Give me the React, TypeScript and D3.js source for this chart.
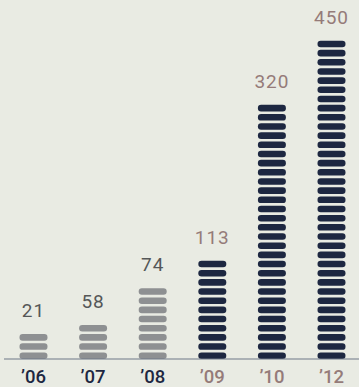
import React from "react";
import * as d3 from "d3";

const years = ["’06", "’07", "’08", "’09", "’10", "’12"];
const values = [21, 58, 74, 113, 320, 450];
const segments = [3, 4, 8, 11, 28, 35];
const highlighted = [false, false, false, true, true, true];

const W = 359;
const H = 387;
const baseline = 359;
const pitch = 9.17;
const gap = 2.6;
const barW = 28;

export default function App() {
  const x = d3.scalePoint<string>().domain(years).range([33.5, 331.5]);
  const maxSeg = d3.max(segments) as number;
  const y = d3
    .scaleLinear()
    .domain([0, maxSeg])
    .range([baseline, baseline - maxSeg * pitch]);

  return (
    <svg
      width={W}
      height={H}
      style={{ position: "absolute", left: 0, top: 0, background: "#e9ebe3" }}
    >
      <rect x={0} y={0} width={W} height={H} fill="#e9ebe3" />
      {years.map((yr, i) => {
        const cx = x(yr) as number;
        const n = segments[i];
        const fill = highlighted[i] ? "#1d2741" : "#8e9092";
        const segs = d3.range(n).map((k) => (
          <rect
            key={k}
            x={cx - barW / 2}
            y={y(k + 1) + gap}
            width={barW}
            height={y(k) - y(k + 1) - gap}
            rx={3.2}
            ry={3.2}
            fill={fill}
          />
        ));
        return (
          <g key={yr}>
            {segs}
            <text
              x={cx}
              y={y(n) - 14.5}
              textAnchor="middle"
              fontFamily="Roboto, 'Noto Sans', sans-serif"
              fontSize={19}
              letterSpacing={1}
              fill={highlighted[i] ? "#957b79" : "#555758"}
            >
              {values[i]}
            </text>
            <text
              x={cx}
              y={383}
              textAnchor="middle"
              fontFamily="Roboto, 'Noto Sans', sans-serif"
              fontSize={18.5}
              fontWeight={500}
              fill={highlighted[i] ? "#957b79" : "#1d2741"}
            >
              {yr}
            </text>
          </g>
        );
      })}
      <line x1={4} x2={W} y1={359} y2={359} stroke="#6e7888" strokeWidth={1.2} />
    </svg>
  );
}
